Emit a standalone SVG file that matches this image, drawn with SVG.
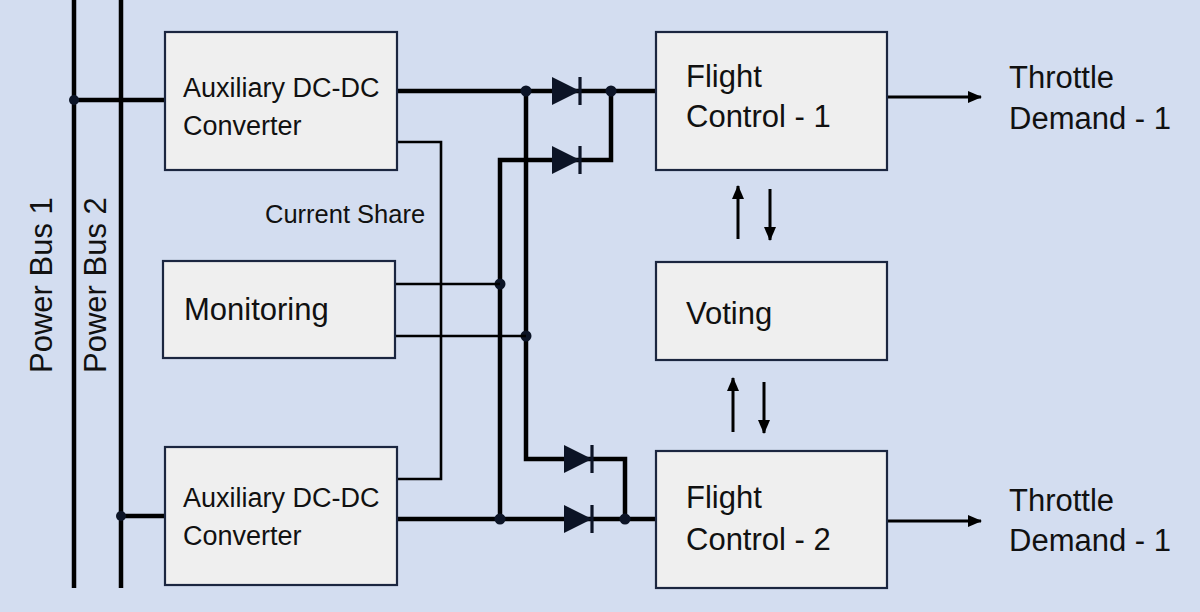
<svg xmlns="http://www.w3.org/2000/svg" width="1200" height="612" viewBox="0 0 1200 612">
<style>
.bg{fill:#d3ddf0}
.box{fill:#efefef;stroke:#1b2640;stroke-width:2.2}
.t{font-family:"Liberation Sans",Arial,sans-serif;fill:#111;}
.big{font-size:31px}
.aux{font-size:27px}
.small{font-size:25.5px}
.thick{fill:none;stroke:#000;stroke-width:4.5;stroke-linejoin:miter}
.thin{fill:none;stroke:#000;stroke-width:2.6}
.arr{fill:none;stroke:#000;stroke-width:3}
.dot{fill:#0c1426}
.diode{fill:#0c1426}
.bar{stroke:#0c1426;stroke-width:3.2}
</style>
<defs>
<marker id="ah" markerWidth="14" markerHeight="12" refX="13" refY="6" orient="auto" markerUnits="userSpaceOnUse">
<path d="M0,0 L14,6 L0,12 Z" fill="#000"/>
</marker>
</defs>
<rect class="bg" x="0" y="0" width="1200" height="612"/>

<g id="connectors">
<line class="thick" x1="74" y1="0" x2="74" y2="588"/>
<line class="thick" x1="121" y1="0" x2="121" y2="588"/>
<line class="thick" x1="74" y1="100" x2="165" y2="100"/>
<line class="thick" x1="121" y1="516" x2="165" y2="516"/>
<circle class="dot" cx="74" cy="100" r="5"/>
<circle class="dot" cx="121" cy="516" r="5"/>

<line class="thick" x1="397" y1="91" x2="656" y2="91"/>
<polyline class="thick" points="526,91 526,459 625,459 625,519"/>
<polyline class="thick" points="500,519 500,160 611,160 611,91"/>
<line class="thick" x1="397" y1="519" x2="656" y2="519"/>
<circle class="dot" cx="526" cy="91" r="5.5"/>
<circle class="dot" cx="611" cy="91" r="5.5"/>
<circle class="dot" cx="500" cy="519" r="5.5"/>
<circle class="dot" cx="625" cy="519" r="5.5"/>
<circle class="dot" cx="500" cy="284" r="5.5"/>
<circle class="dot" cx="526" cy="336" r="5.5"/>

<g id="diode1"><polygon class="diode" points="552,77 552,105 580,91"/><line class="bar" x1="580" y1="77" x2="580" y2="105"/></g>
<g id="diode2"><polygon class="diode" points="552,146 552,174 580,160"/><line class="bar" x1="580" y1="146" x2="580" y2="174"/></g>
<g id="diode3"><polygon class="diode" points="564,445 564,473 592,459"/><line class="bar" x1="592" y1="445" x2="592" y2="473"/></g>
<g id="diode4"><polygon class="diode" points="564,505 564,533 592,519"/><line class="bar" x1="592" y1="505" x2="592" y2="533"/></g>

<polyline class="thin" points="397,142 441,142 441,479 397,479"/>
<line class="thin" x1="395" y1="284" x2="500" y2="284"/>
<line class="thin" x1="395" y1="336" x2="526" y2="336"/>

<line class="arr" x1="738" y1="239" x2="738" y2="186" marker-end="url(#ah)"/>
<line class="arr" x1="770" y1="189" x2="770" y2="240" marker-end="url(#ah)"/>
<line class="arr" x1="733" y1="432" x2="733" y2="378" marker-end="url(#ah)"/>
<line class="arr" x1="764" y1="382" x2="764" y2="433" marker-end="url(#ah)"/>

<line class="arr" x1="887" y1="97" x2="981" y2="97" marker-end="url(#ah)"/>
<line class="arr" x1="887" y1="521" x2="981" y2="521" marker-end="url(#ah)"/>
</g>

<g id="aux1"><rect class="box" x="165" y="32" width="232" height="138"/>
<text class="t aux" x="183" y="97">Auxiliary DC-DC</text><text class="t aux" x="183" y="135">Converter</text></g>
<g id="monitoring"><rect class="box" x="163" y="261" width="232" height="97"/>
<text class="t big" x="184" y="320">Monitoring</text></g>
<g id="aux2"><rect class="box" x="165" y="447" width="232" height="138"/>
<text class="t aux" x="183" y="507">Auxiliary DC-DC</text><text class="t aux" x="183" y="545">Converter</text></g>
<g id="fc1"><rect class="box" x="656" y="32" width="231" height="138"/>
<text class="t big" x="686" y="87">Flight</text><text class="t big" x="686" y="127">Control - 1</text></g>
<g id="voting"><rect class="box" x="656" y="262" width="231" height="98"/>
<text class="t big" x="686" y="324">Voting</text></g>
<g id="fc2"><rect class="box" x="656" y="451" width="231" height="137"/>
<text class="t big" x="686" y="508">Flight</text><text class="t big" x="686" y="550">Control - 2</text></g>

<g id="labels">
<text class="t small" x="265" y="223">Current Share</text>
<text class="t big" x="1009" y="88">Throttle</text>
<text class="t big" x="1009" y="129">Demand - 1</text>
<text class="t big" x="1009" y="511">Throttle</text>
<text class="t big" x="1009" y="551">Demand - 1</text>
<text class="t big" transform="translate(52,373) rotate(-90)">Power Bus 1</text>
<text class="t big" transform="translate(106,373) rotate(-90)">Power Bus 2</text>
</g>
</svg>
